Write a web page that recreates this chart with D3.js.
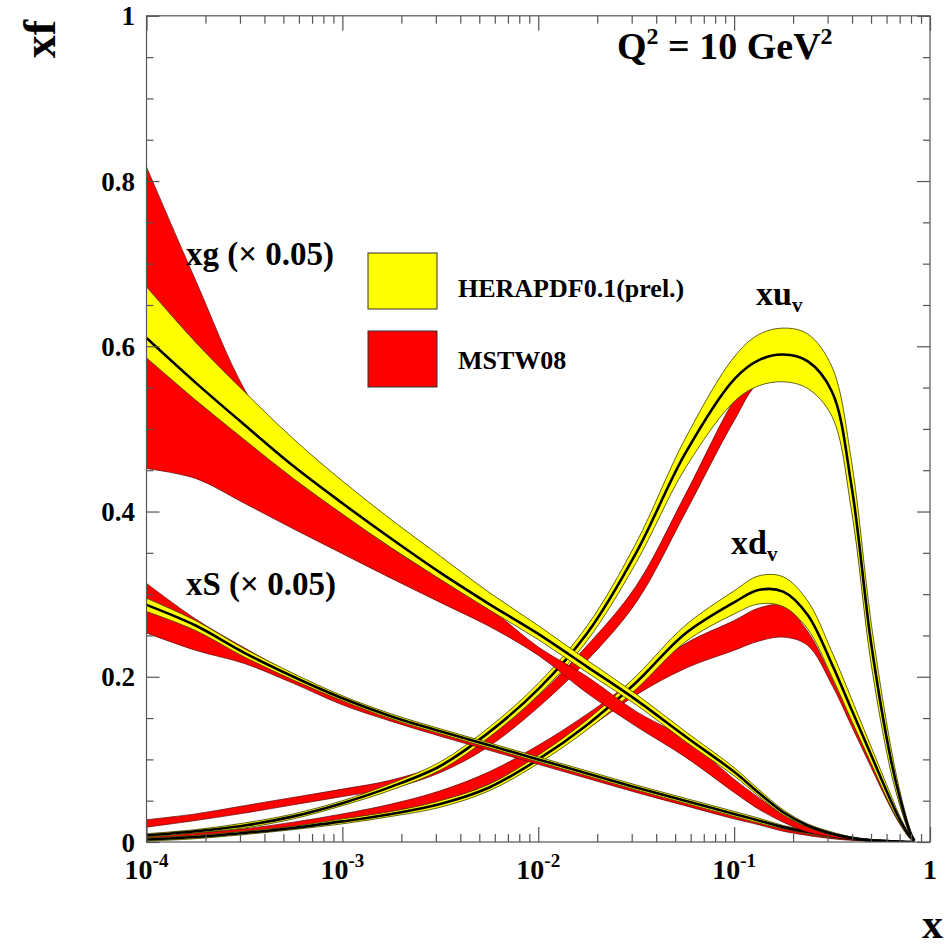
<!DOCTYPE html>
<html><head><meta charset="utf-8">
<script src="https://cdn.jsdelivr.net/npm/d3@7"></script>
<style>
html,body{margin:0;padding:0;background:#fff;}
svg{display:block;}
text{font-family:"Liberation Serif","Times New Roman",serif;font-weight:bold;fill:#000;}
</style>
</head><body>
<svg id="chart" width="949" height="949"></svg>
<script>
// ---------- DATA ----------
const xGrid = [0.0001, 0.000178, 0.000316, 0.000562, 0.001, 0.00178, 0.00316, 0.00562, 0.01, 0.0178, 0.0316, 0.0562, 0.1, 0.133, 0.178, 0.237, 0.316, 0.398, 0.501, 0.631, 0.708, 0.794, 0.832];

// gluon xg (x 0.05)
const xgHeraC  = [0.61, 0.556, 0.505, 0.455, 0.41, 0.367, 0.326, 0.288, 0.252, 0.212, 0.172, 0.128, 0.085, 0.06, 0.036, 0.02, 0.01, 0.005, 0.002, 0.001, 0.0005, 0, 0];
const xgHeraLo = [0.586, 0.535, 0.487, 0.44, 0.397, 0.356, 0.318, 0.281, 0.245, 0.205, 0.166, 0.122, 0.08, 0.056, 0.033, 0.018, 0.009, 0.004, 0.0015, 0.0005, 0.0002, 0, 0];
const xgHeraHi = [0.672, 0.605, 0.545, 0.488, 0.437, 0.39, 0.346, 0.302, 0.262, 0.22, 0.179, 0.134, 0.09, 0.064, 0.039, 0.022, 0.012, 0.006, 0.003, 0.0015, 0.0008, 0.0002, 0];
const xgMstwLo = [0.452, 0.44, 0.41, 0.379, 0.349, 0.319, 0.29, 0.261, 0.226, 0.18, 0.14, 0.103, 0.06, 0.04, 0.024, 0.012, 0.006, 0.003, 0.001, 0.0003, 0, 0, 0];
const xgMstwHi = [0.817, 0.68, 0.548, 0.46, 0.405, 0.356, 0.32, 0.283, 0.236, 0.2, 0.158, 0.125, 0.076, 0.054, 0.033, 0.018, 0.009, 0.004, 0.0015, 0.0005, 0.0002, 0, 0];

// sea xS (x 0.05)
const xsHeraC  = [0.287, 0.262, 0.229, 0.2, 0.174, 0.152, 0.134, 0.117, 0.1, 0.083, 0.066, 0.05, 0.034, 0.026, 0.018, 0.012, 0.007, 0.004, 0.002, 0.0008, 0.0003, 0, 0];
const xsHeraLo = [0.279, 0.256, 0.224, 0.196, 0.171, 0.149, 0.131, 0.114, 0.097, 0.08, 0.063, 0.047, 0.031, 0.023, 0.016, 0.010, 0.005, 0.003, 0.001, 0.0003, 0, 0, 0];
const xsHeraHi = [0.295, 0.268, 0.234, 0.204, 0.177, 0.155, 0.137, 0.12, 0.103, 0.086, 0.069, 0.053, 0.037, 0.029, 0.020, 0.014, 0.009, 0.005, 0.003, 0.0013, 0.0006, 0.0001, 0];
const xsMstwLo = [0.253, 0.232, 0.216, 0.192, 0.166, 0.146, 0.128, 0.111, 0.094, 0.077, 0.06, 0.044, 0.028, 0.021, 0.013, 0.008, 0.004, 0.002, 0.001, 0.0003, 0, 0, 0];
const xsMstwHi = [0.313, 0.27, 0.235, 0.203, 0.176, 0.154, 0.136, 0.118, 0.101, 0.084, 0.066, 0.05, 0.034, 0.026, 0.018, 0.012, 0.007, 0.004, 0.002, 0.0008, 0.0003, 0, 0];

// valence xu_v
const xuHeraC  = [0.008, 0.013, 0.02, 0.031, 0.047, 0.067, 0.092, 0.133, 0.185, 0.253, 0.35, 0.47, 0.56, 0.583, 0.59, 0.582, 0.545, 0.43, 0.24, 0.1, 0.05, 0.011, 0.002];
const xuHeraLo = [0.006, 0.011, 0.017, 0.028, 0.044, 0.063, 0.087, 0.127, 0.178, 0.244, 0.338, 0.452, 0.533, 0.552, 0.557, 0.549, 0.515, 0.40, 0.215, 0.085, 0.042, 0.008, 0.001];
const xuHeraHi = [0.010, 0.015, 0.023, 0.034, 0.050, 0.071, 0.097, 0.139, 0.192, 0.262, 0.362, 0.488, 0.587, 0.614, 0.622, 0.615, 0.575, 0.46, 0.265, 0.115, 0.058, 0.014, 0.003];
const xuMstwLo = [0.018, 0.026, 0.035, 0.045, 0.055, 0.065, 0.084, 0.116, 0.163, 0.22, 0.29, 0.398, 0.51, 0.555, 0.562, 0.555, 0.52, 0.405, 0.22, 0.09, 0.042, 0.008, 0.001];
const xuMstwHi = [0.027, 0.034, 0.044, 0.054, 0.064, 0.075, 0.094, 0.128, 0.177, 0.238, 0.31, 0.42, 0.535, 0.575, 0.585, 0.578, 0.545, 0.43, 0.24, 0.1, 0.05, 0.012, 0.003];

// valence xd_v
const xdHeraC  = [0.003, 0.006, 0.011, 0.017, 0.025, 0.034, 0.046, 0.066, 0.1, 0.142, 0.193, 0.252, 0.29, 0.305, 0.303, 0.275, 0.215, 0.16, 0.105, 0.05, 0.025, 0.006, 0.002];
const xdHeraLo = [0.001, 0.004, 0.009, 0.015, 0.022, 0.031, 0.042, 0.062, 0.095, 0.136, 0.185, 0.242, 0.276, 0.288, 0.285, 0.258, 0.2, 0.147, 0.095, 0.043, 0.021, 0.004, 0.001];
const xdHeraHi = [0.005, 0.008, 0.013, 0.019, 0.028, 0.037, 0.050, 0.070, 0.105, 0.148, 0.201, 0.262, 0.304, 0.322, 0.321, 0.292, 0.23, 0.173, 0.115, 0.057, 0.029, 0.008, 0.003];
const xdMstwLo = [0.003, 0.006, 0.01, 0.016, 0.024, 0.034, 0.048, 0.07, 0.1, 0.137, 0.178, 0.21, 0.232, 0.243, 0.248, 0.238, 0.19, 0.14, 0.09, 0.041, 0.02, 0.004, 0.001];
const xdMstwHi = [0.008, 0.011, 0.016, 0.024, 0.034, 0.046, 0.062, 0.085, 0.117, 0.155, 0.198, 0.24, 0.268, 0.283, 0.286, 0.255, 0.198, 0.147, 0.095, 0.043, 0.021, 0.004, 0.001];

const xMajorTicks = [1e-4, 1e-3, 1e-2, 1e-1, 1];
const xTickExp = ["-4", "-3", "-2", "-1", ""];
const yMajorTicks = [0, 0.2, 0.4, 0.6, 0.8, 1];
const yTickLabels = ["0", "0.2", "0.4", "0.6", "0.8", "1"];
const legendLabels = ["HERAPDF0.1(prel.)", "MSTW08"];

// ---------- DRAWING ----------
const svg = d3.select("#chart");
const X0 = 146.5, X1 = 930, Y0 = 842, Y1 = 15.8;
const x = d3.scaleLog().domain([1e-4, 1]).range([X0, X1]);
const y = d3.scaleLinear().domain([0, 1]).range([Y0, Y1]);

const RED = "#ff0000", YEL = "#ffff00";

svg.append("defs").append("clipPath").attr("id", "clip")
  .append("rect").attr("x", X0).attr("y", Y1).attr("width", X1 - X0).attr("height", Y0 - Y1);

function band(lo, hi) { return xGrid.map((xv, i) => ({x: xv, lo: lo[i], hi: hi[i]})); }
function pts(c) { return xGrid.map((xv, i) => ({x: xv, v: c[i]})); }

const curve = d3.curveCatmullRom.alpha(0.5);
const area = d3.area().x(d => x(d.x)).y0(d => y(d.lo)).y1(d => y(d.hi)).curve(curve);
const line = d3.line().x(d => x(d.x)).y(d => y(d.v)).curve(curve);

const plot = svg.append("g").attr("clip-path", "url(#clip)");
const sets = [
  {mLo: xdMstwLo, mHi: xdMstwHi, hLo: xdHeraLo, hHi: xdHeraHi, c: xdHeraC},
  {mLo: xuMstwLo, mHi: xuMstwHi, hLo: xuHeraLo, hHi: xuHeraHi, c: xuHeraC},
  {mLo: xsMstwLo, mHi: xsMstwHi, hLo: xsHeraLo, hHi: xsHeraHi, c: xsHeraC},
  {mLo: xgMstwLo, mHi: xgMstwHi, hLo: xgHeraLo, hHi: xgHeraHi, c: xgHeraC}
];
sets.forEach(s => {
  plot.append("path").attr("d", area(band(s.mLo, s.mHi)))
    .attr("fill", RED).attr("stroke", "#5a0000").attr("stroke-width", 0.7);
  plot.append("path").attr("d", area(band(s.hLo, s.hHi)))
    .attr("fill", YEL).attr("stroke", "#3a3a00").attr("stroke-width", 0.8);
  plot.append("path").attr("d", line(pts(s.c)))
    .attr("fill", "none").attr("stroke", "#000").attr("stroke-width", 2.6);
});

// frame
const axisColor = "#555";
svg.append("rect").attr("x", X0).attr("y", Y1).attr("width", X1 - X0).attr("height", Y0 - Y1)
  .attr("fill", "none").attr("stroke", axisColor).attr("stroke-width", 1.2);

// x ticks
const xMinor = [];
for (let e = -4; e < 0; e++) for (let m = 2; m <= 9; m++) xMinor.push(m * Math.pow(10, e));
function styleAxis(g) { g.select(".domain").remove(); g.selectAll("line").attr("stroke", axisColor).attr("stroke-width", 1.2); g.selectAll("text").remove(); }
svg.append("g").attr("transform", `translate(0,${Y0})`).call(d3.axisBottom(x).tickValues(xMajorTicks).tickSize(-15)).call(styleAxis);
svg.append("g").attr("transform", `translate(0,${Y0})`).call(d3.axisBottom(x).tickValues(xMinor).tickSize(-8)).call(styleAxis);
svg.append("g").attr("transform", `translate(0,${Y1})`).call(d3.axisTop(x).tickValues(xMajorTicks).tickSize(-15)).call(styleAxis);
svg.append("g").attr("transform", `translate(0,${Y1})`).call(d3.axisTop(x).tickValues(xMinor).tickSize(-8)).call(styleAxis);

// y ticks
const yMinor = d3.range(0, 1.0001, 0.05).filter(v => Math.abs(v * 5 - Math.round(v * 5)) > 1e-6);
svg.append("g").attr("transform", `translate(${X0},0)`).call(d3.axisLeft(y).tickValues(yMajorTicks).tickSize(-13)).call(styleAxis);
svg.append("g").attr("transform", `translate(${X0},0)`).call(d3.axisLeft(y).tickValues(yMinor).tickSize(-7)).call(styleAxis);
svg.append("g").attr("transform", `translate(${X1},0)`).call(d3.axisRight(y).tickValues(yMajorTicks).tickSize(-13)).call(styleAxis);
svg.append("g").attr("transform", `translate(${X1},0)`).call(d3.axisRight(y).tickValues(yMinor).tickSize(-7)).call(styleAxis);

// y tick labels
yMajorTicks.forEach((v, i) => {
  svg.append("text").attr("x", 135).attr("y", y(v) + 9.5).attr("text-anchor", "end")
    .attr("font-size", 27).text(yTickLabels[i]);
});
// x tick labels
xMajorTicks.forEach((v, i) => {
  const t = svg.append("text").attr("x", x(v)).attr("y", 879).attr("text-anchor", "middle").attr("font-size", 28);
  if (xTickExp[i]) {
    t.append("tspan").text("10");
    t.append("tspan").attr("dy", -12).attr("font-size", 19).text(xTickExp[i]);
  } else {
    t.text("1");
  }
});

// axis titles
svg.append("text").attr("x", 943).attr("y", 938).attr("text-anchor", "end").attr("font-size", 42).text("x");
svg.append("text").attr("transform", "translate(55,20) rotate(-90)").attr("text-anchor", "end").attr("font-size", 46).text("xf");

// Q2 label
const q = svg.append("text").attr("x", 617).attr("y", 59).attr("font-size", 38);
q.append("tspan").text("Q");
q.append("tspan").attr("dy", -15).attr("font-size", 24).text("2");
q.append("tspan").attr("dy", 15).text(" = 10 GeV");
q.append("tspan").attr("dy", -15).attr("font-size", 24).text("2");

// curve labels
svg.append("text").attr("x", 186).attr("y", 265).attr("font-size", 33).text("xg (× 0.05)");
svg.append("text").attr("x", 186).attr("y", 595).attr("font-size", 33).text("xS (× 0.05)");
const lu = svg.append("text").attr("x", 756).attr("y", 305).attr("font-size", 34);
lu.append("tspan").text("xu");
lu.append("tspan").attr("dy", 7).attr("font-size", 21).text("v");
const ld = svg.append("text").attr("x", 731).attr("y", 554).attr("font-size", 34);
ld.append("tspan").text("xd");
ld.append("tspan").attr("dy", 7).attr("font-size", 21).text("v");

// legend
const legColors = [YEL, RED];
const legY = [253, 331];
const legTextY = [297, 369];
legendLabels.forEach((lab, i) => {
  svg.append("rect").attr("x", 368).attr("y", legY[i]).attr("width", 69).attr("height", 56)
    .attr("fill", legColors[i]).attr("stroke", "#333").attr("stroke-width", 1);
  svg.append("text").attr("x", 458).attr("y", legTextY[i]).attr("font-size", 26).text(lab);
});
</script>
</body></html>
